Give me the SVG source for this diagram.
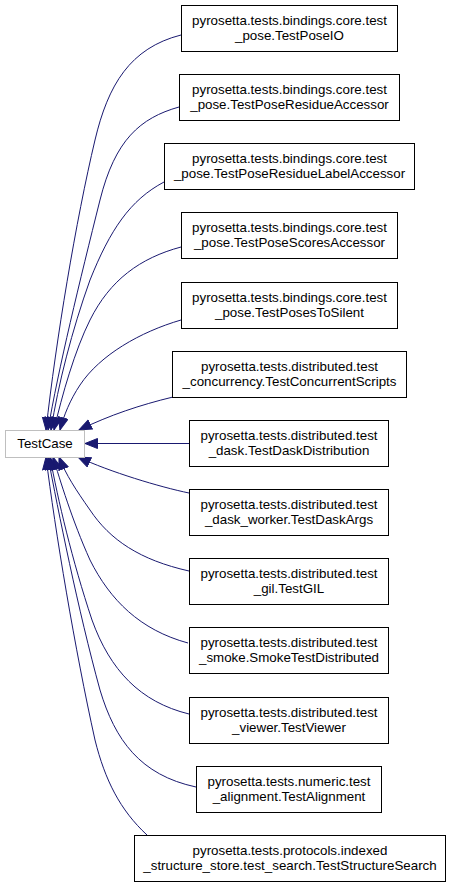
<svg xmlns="http://www.w3.org/2000/svg" width="451" height="888" viewBox="0 0 451 888">
<style>
.n rect{fill:#fff;stroke:#000;stroke-width:1}
.root rect{fill:#fff;stroke:#bfbfbf;stroke-width:1}
text{font-family:"Liberation Sans",Arial,sans-serif;font-size:13.33px;fill:#000;text-anchor:middle}
.e path{fill:none;stroke:#191970;stroke-width:1;marker-end:url(#ah)}
</style>
<defs>
<marker id="ah" markerUnits="userSpaceOnUse" markerWidth="15" markerHeight="12" refX="13" refY="5.5" orient="auto">
<path d="M0.5,0.5 L13,5.5 L0.5,10.5 z" fill="#191970" stroke="#191970" stroke-width="1"/>
</marker>
</defs>
<rect width="451" height="888" fill="#fff"/>
<g id="edges" class="e">
<path d="M181,35 C130,48 108,85 95,140 C76,220 56,340 46,430"/>
<path d="M179,107 C140,118 115,140 100,200 C80,280 58,370 48,430"/>
<path d="M164,182 C130,200 110,230 90,280 C72,330 58,385 51,430"/>
<path d="M181,247 C140,258 110,280 90,320 C75,350 62,395 54,430"/>
<path d="M181,320 C140,332 100,355 80,385 C70,400 64,415 60,430"/>
<path d="M173,397 C140,405 110,415 79,430"/>
<path d="M189,443.5 L85,443.5"/>
<path d="M189,493 C160,487 110,472 78,457"/>
<path d="M189,571 C140,560 110,540 90,510 C76,490 66,475 59,457"/>
<path d="M188,643 C140,630 110,600 90,560 C72,520 60,480 53,457"/>
<path d="M189,714 C140,702 110,670 92,620 C72,560 58,500 50,457"/>
<path d="M196,787 C140,775 115,740 100,690 C78,610 58,510 48,457"/>
<path d="M147,835 C120,810 105,780 95,740 C75,650 55,530 46,457"/>
</g>
<g id="TestCase" class="root"><rect x="5.5" y="430.5" width="79" height="27"/><text x="45" y="448">TestCase</text></g>
<g id="n1" class="n"><rect x="181.5" y="5.5" width="216" height="46"/><text x="289.5" y="24.5">pyrosetta.tests.bindings.core.test</text><text x="289.5" y="39.5">_pose.TestPoseIO</text></g>
<g id="n2" class="n"><rect x="179.5" y="74.5" width="220" height="46"/><text x="289.5" y="93.5">pyrosetta.tests.bindings.core.test</text><text x="289.5" y="108.5">_pose.TestPoseResidueAccessor</text></g>
<g id="n3" class="n"><rect x="164.5" y="143.5" width="250" height="46"/><text x="289.5" y="162.5">pyrosetta.tests.bindings.core.test</text><text x="289.5" y="177.5">_pose.TestPoseResidueLabelAccessor</text></g>
<g id="n4" class="n"><rect x="181.5" y="212.5" width="216" height="46"/><text x="289.5" y="231.5">pyrosetta.tests.bindings.core.test</text><text x="289.5" y="246.5">_pose.TestPoseScoresAccessor</text></g>
<g id="n5" class="n"><rect x="181.5" y="282.5" width="216" height="46"/><text x="289.5" y="301.5">pyrosetta.tests.bindings.core.test</text><text x="289.5" y="316.5">_pose.TestPosesToSilent</text></g>
<g id="n6" class="n"><rect x="172.5" y="351.5" width="234" height="46"/><text x="289.5" y="370.5">pyrosetta.tests.distributed.test</text><text x="289.5" y="385.5">_concurrency.TestConcurrentScripts</text></g>
<g id="n7" class="n"><rect x="189.5" y="420.5" width="199" height="46"/><text x="289" y="439.5">pyrosetta.tests.distributed.test</text><text x="289" y="454.5">_dask.TestDaskDistribution</text></g>
<g id="n8" class="n"><rect x="189.5" y="489.5" width="199" height="46"/><text x="289" y="508.5">pyrosetta.tests.distributed.test</text><text x="289" y="523.5">_dask_worker.TestDaskArgs</text></g>
<g id="n9" class="n"><rect x="189.5" y="558.5" width="199" height="46"/><text x="289" y="577.5">pyrosetta.tests.distributed.test</text><text x="289" y="592.5">_gil.TestGIL</text></g>
<g id="n10" class="n"><rect x="189.5" y="627.5" width="199" height="46"/><text x="289" y="646.5">pyrosetta.tests.distributed.test</text><text x="289" y="661.5">_smoke.SmokeTestDistributed</text></g>
<g id="n11" class="n"><rect x="189.5" y="697.5" width="199" height="46"/><text x="289" y="716.5">pyrosetta.tests.distributed.test</text><text x="289" y="731.5">_viewer.TestViewer</text></g>
<g id="n12" class="n"><rect x="196.5" y="766.5" width="185" height="46"/><text x="289" y="785.5">pyrosetta.tests.numeric.test</text><text x="289" y="800.5">_alignment.TestAlignment</text></g>
<g id="n13" class="n"><rect x="134.5" y="835.5" width="311" height="46"/><text x="290" y="854.5">pyrosetta.tests.protocols.indexed</text><text x="290" y="869.5">_structure_store.test_search.TestStructureSearch</text></g>
</svg>
